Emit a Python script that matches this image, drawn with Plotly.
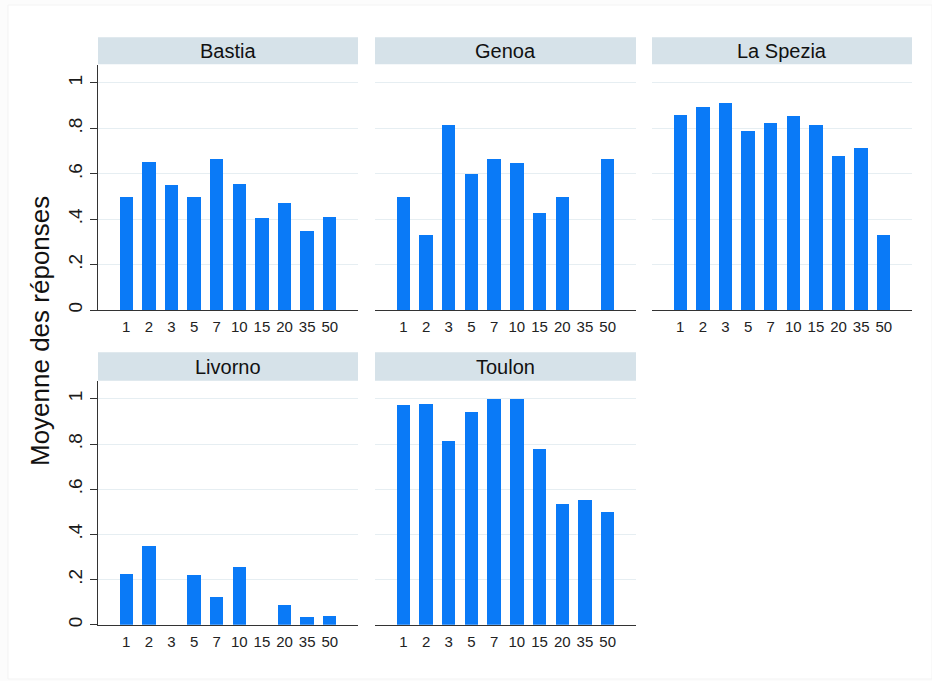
import plotly.graph_objects as go

W, H = 932, 681

doses = ["1", "2", "3", "5", "7", "10", "15", "20", "35", "50"]
ports = ["Bastia", "Genoa", "La Spezia", "Livorno", "Toulon"]

bastia = [0.50, 0.653, 0.55, 0.50, 0.666, 0.555, 0.408, 0.471, 0.35, 0.411]
genoa = [0.50, 0.333, 0.817, 0.60, 0.667, 0.65, 0.429, 0.50, None, 0.667]
la_spezia = [0.859, 0.897, 0.911, 0.789, 0.824, 0.855, 0.814, 0.681, 0.714, 0.333]
livorno = [0.226, 0.349, None, 0.221, 0.124, 0.259, None, 0.09, 0.037, 0.041]
toulon = [0.972, 0.978, 0.815, 0.944, 1.0, 1.0, 0.778, 0.537, 0.554, 0.50]

series = [bastia, genoa, la_spezia, livorno, toulon]

y_ticks = [0, 0.2, 0.4, 0.6, 0.8, 1]
y_ticktext = ["0", ".2", ".4", ".6", ".8", "1"]
y_title = "Moyenne des réponses"

BAR = "#0a7af7"
STRIP = "#d6e2e9"
GRID = "#e6eef2"
AXIS = "#333333"
FONT = "Liberation Sans, Arial, sans-serif"

# pixel layout (x0, x1) per column, (top, bottom) plot / strip per row
cols = [(98, 358), (375, 636), (652, 912)]
rows = [dict(plot=(65, 311), strip=(37.3, 64.5)),
        dict(plot=(381.9, 626.7), strip=(353.3, 381.9))]

def px(x):
    return x / W

def py(y):
    return 1 - y / H

fig = go.Figure()
layout = {}
shapes = []
annotations = []

for i, (name, vals) in enumerate(zip(ports, series)):
    r, c = divmod(i, 3)
    x0, x1 = cols[c]
    top, bot = rows[r]["plot"]
    s_top, s_bot = rows[r]["strip"]
    k = "" if i == 0 else str(i + 1)
    fig.add_trace(go.Bar(
        x=doses, y=vals, marker=dict(color=BAR, line=dict(width=0)),
        width=0.59, xaxis="x" + k, yaxis="y" + k, showlegend=False,
    ))
    show_y = (c == 0)
    layout["xaxis" + k] = dict(
        domain=[px(x0), px(x1)], anchor="y" + k, type="category",
        categoryorder="array", categoryarray=doses,
        range=[-1.25, 10.25], showgrid=False, zeroline=False,
        showline=True, linecolor=AXIS, linewidth=1.2, ticks="",
        ticklabelstandoff=3,
        tickfont=dict(size=15, color="#222", family=FONT), fixedrange=True,
    )
    layout["yaxis" + k] = dict(
        domain=[py(bot), py(top)], anchor="x" + k, range=[0, 1.08],
        tickvals=y_ticks, ticktext=y_ticktext, showticklabels=show_y,
        tickangle=-90, ticks="outside" if show_y else "", ticklen=7,
        tickcolor=AXIS, showline=show_y, linecolor=AXIS, linewidth=1.2,
        showgrid=True, gridcolor=GRID, gridwidth=1, zeroline=False,
        ticklabelstandoff=0,
        tickfont=dict(size=19, color="#1a1a1a", family=FONT), fixedrange=True,
    )
    shapes.append(dict(type="rect", xref="paper", yref="paper",
                       x0=px(x0), x1=px(x1), y0=py(s_bot), y1=py(s_top),
                       fillcolor=STRIP, line=dict(width=0), layer="below"))
    annotations.append(dict(text=name, xref="paper", yref="paper",
                            x=px((x0 + x1) / 2), y=py((s_top + s_bot) / 2),
                            xanchor="center", yanchor="middle", showarrow=False,
                            font=dict(size=20, color="#111", family=FONT)))

annotations.append(dict(text=y_title, xref="paper", yref="paper",
                        x=px(40), y=py(332), textangle=-90, showarrow=False,
                        xanchor="center", yanchor="middle",
                        font=dict(size=26, color="#111", family=FONT)))

shapes.insert(0, dict(type="rect", xref="paper", yref="paper",
                      x0=px(8), x1=1.0, y0=0.0, y1=py(5),
                      fillcolor="white", line=dict(color="#f3f3f3", width=1),
                      layer="below"))

fig.update_layout(
    width=W, height=H, margin=dict(l=0, r=0, t=0, b=0),
    paper_bgcolor="#fcfcfc", plot_bgcolor="rgba(0,0,0,0)",
    shapes=shapes, annotations=annotations, bargap=0,
    font=dict(family=FONT), **layout,
)

fig.write_html("out.html")
